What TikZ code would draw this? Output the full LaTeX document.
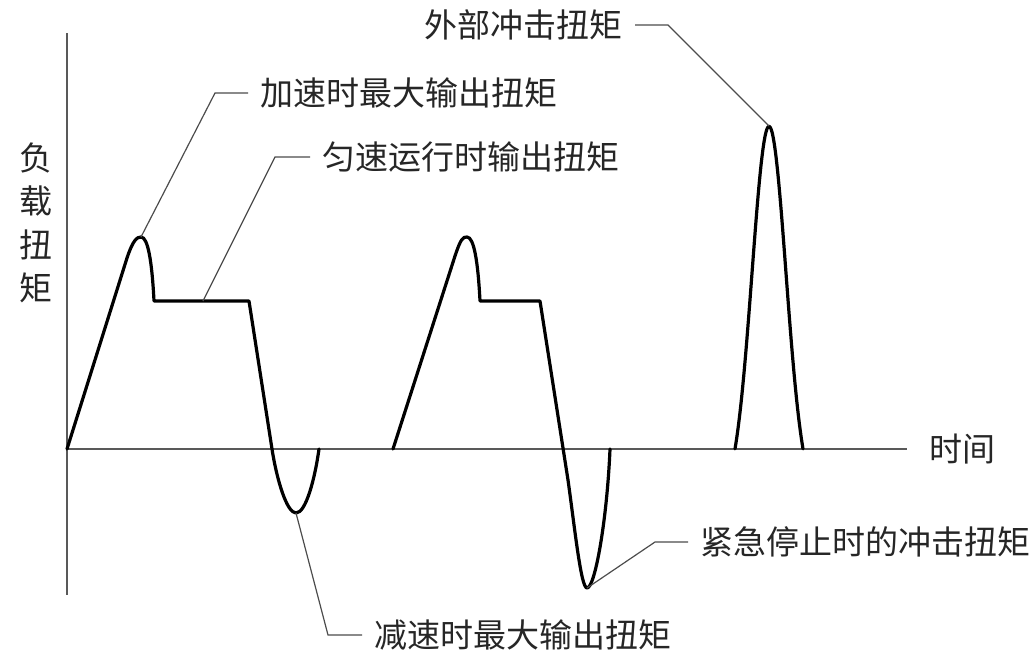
\documentclass[tikz,border=0pt]{standalone}
\usepackage{fontspec}
\setmainfont{Noto Sans CJK SC}
\begin{document}
\begin{tikzpicture}[x=1pt,y=-1pt,
every node/.style={font=\fontsize{33}{43.5}\selectfont,text=black!85,inner sep=0pt},
lbl/.style={inner xsep=12pt,inner ysep=0pt},
curve/.style={line width=3.2pt,line join=round,line cap=round},
axis/.style={line width=1.4pt,black!65},
leader/.style={line width=1.2pt,black!70}]

\useasboundingbox (0,0) rectangle (1036,656);

% axes
\coordinate (o) at (67,449);
\coordinate (ytop) at (67,33);
\coordinate (ybot) at (67,595);
\coordinate (xend) at (907,449);
\draw[axis] (ytop) -- (ybot);
\draw[axis] (o) -- (xend);
\node[align=center] (ylbl) at (36,223) {负\\载\\扭\\矩};
\node[lbl,anchor=west,inner xsep=22pt] (tlbl) at (xend) {时间};

% load curve
\coordinate (pk1) at (141,237);
\coordinate (flat1) at (203,301);
\coordinate (dip1) at (296,513);
\coordinate (pk2) at (467,237);
\coordinate (dip2) at (587,588);
\coordinate (pk3) at (769,126);

\draw[curve] (o) -- (127,258) .. controls (133,240) and (137,237) .. (pk1)
  .. controls (148,237) and (152,262) .. (154,301) -- (flat1) -- (249,301)
  -- (272,449) .. controls (277,481) and (287,513) .. (dip1)
  .. controls (306,513) and (315,478) .. (319,449);
\draw[curve] (393,449) -- (455,256) .. controls (461,238) and (463,237) .. (pk2)
  .. controls (474,237) and (478,262) .. (480,301) -- (540,301)
  -- (568,480) .. controls (575,530) and (581,588) .. (dip2)
  .. controls (595,588) and (607,520) .. (610,449);
\draw[curve] plot[domain=-34:34,samples=69,smooth]
  ({769+\x},{449-373*(exp((\x)*(\x)/(-578))-0.135)});

% labels
\node[lbl,anchor=west] (acc) at (248,93) {加速时最大输出扭矩};
\node[lbl,anchor=west] (uni) at (310,157) {匀速运行时输出扭矩};
\node[lbl,anchor=west] (dec) at (362,635) {减速时最大输出扭矩};
\node[lbl,anchor=west] (emg) at (688,542) {紧急停止时的冲击扭矩};
\node[lbl,anchor=east] (ext) at (635,25) {外部冲击扭矩};

\coordinate (k1) at (215,93);
\coordinate (k2) at (275,157);
\coordinate (k3) at (328,635);
\coordinate (k4) at (655,542);
\coordinate (k5) at (668,25);
\draw[leader] (pk1) -- (k1) -- (acc.west);
\draw[leader] (flat1) -- (k2) -- (uni.west);
\draw[leader] (dip1) -- (k3) -- (dec.west);
\draw[leader] (dip2) -- (k4) -- (emg.west);
\draw[leader] (pk3) -- (k5) -- (ext.east);

\end{tikzpicture}
\end{document}
